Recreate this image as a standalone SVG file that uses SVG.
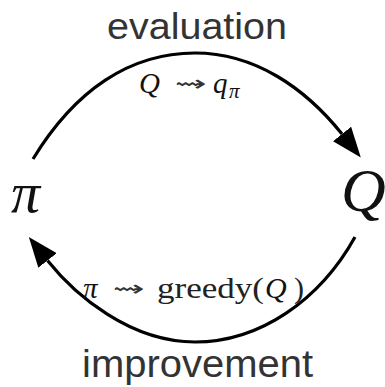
<svg xmlns="http://www.w3.org/2000/svg" width="385" height="387" viewBox="0 0 385 387">
<style>
.lbl{font-family:"Liberation Sans",Arial,sans-serif;fill:#333}
.m{font-family:"Liberation Serif","DejaVu Serif",serif;fill:#222}
.mi{font-family:"Liberation Serif","DejaVu Serif",serif;font-style:italic;fill:#111}
.sq{font-family:"DejaVu Sans",sans-serif;fill:#333}
.arc{fill:none;stroke:#000;stroke-width:3.2}
</style>
<defs>
<marker id="ah" markerUnits="userSpaceOnUse" markerWidth="30" markerHeight="24" refX="0" refY="10.5" orient="auto" viewBox="0 0 27 21">
<path d="M0,0 L27,10.5 L0,21 Z" fill="#000"/>
</marker>
</defs>
<rect width="385" height="387" fill="#fff"/>
<g id="connectors">
<path class="arc" d="M33,159 C75,90 130,53 195,53 C255,53 305,88 342,134" marker-end="url(#ah)"/>
<path class="arc" d="M355,237 C320,300 260,342 195,342 C130,342 75,295 47.5,260.5" marker-end="url(#ah)"/>
</g>
<g id="node-pi">
<text class="mi" x="11" y="212" font-size="58">π</text>
</g>
<g id="node-Q">
<text class="mi" x="341" y="211" font-size="62">Q</text>
</g>
<g id="label-evaluation">
<text class="lbl" x="107" y="39" font-size="36" textLength="180" lengthAdjust="spacingAndGlyphs">evaluation</text>
<text class="mi" x="139" y="93" font-size="29">Q</text>
<text class="sq" x="175" y="91" font-size="22" textLength="32" lengthAdjust="spacingAndGlyphs">⇝</text>
<text class="mi" x="213" y="93" font-size="29">q</text>
<text class="mi" x="229" y="98" font-size="21">π</text>
</g>
<g id="label-improvement">
<text class="mi" x="83" y="298" font-size="29">π</text>
<text class="sq" x="113" y="296" font-size="22" textLength="32" lengthAdjust="spacingAndGlyphs">⇝</text>
<text class="m" x="157" y="298" font-size="30" textLength="107" lengthAdjust="spacingAndGlyphs">greedy(</text>
<text class="mi" x="265" y="298" font-size="30">Q</text>
<text class="m" x="294" y="298" font-size="30">)</text>
<text class="lbl" x="82" y="377" font-size="38" textLength="231" lengthAdjust="spacingAndGlyphs">improvement</text>
</g>
</svg>
